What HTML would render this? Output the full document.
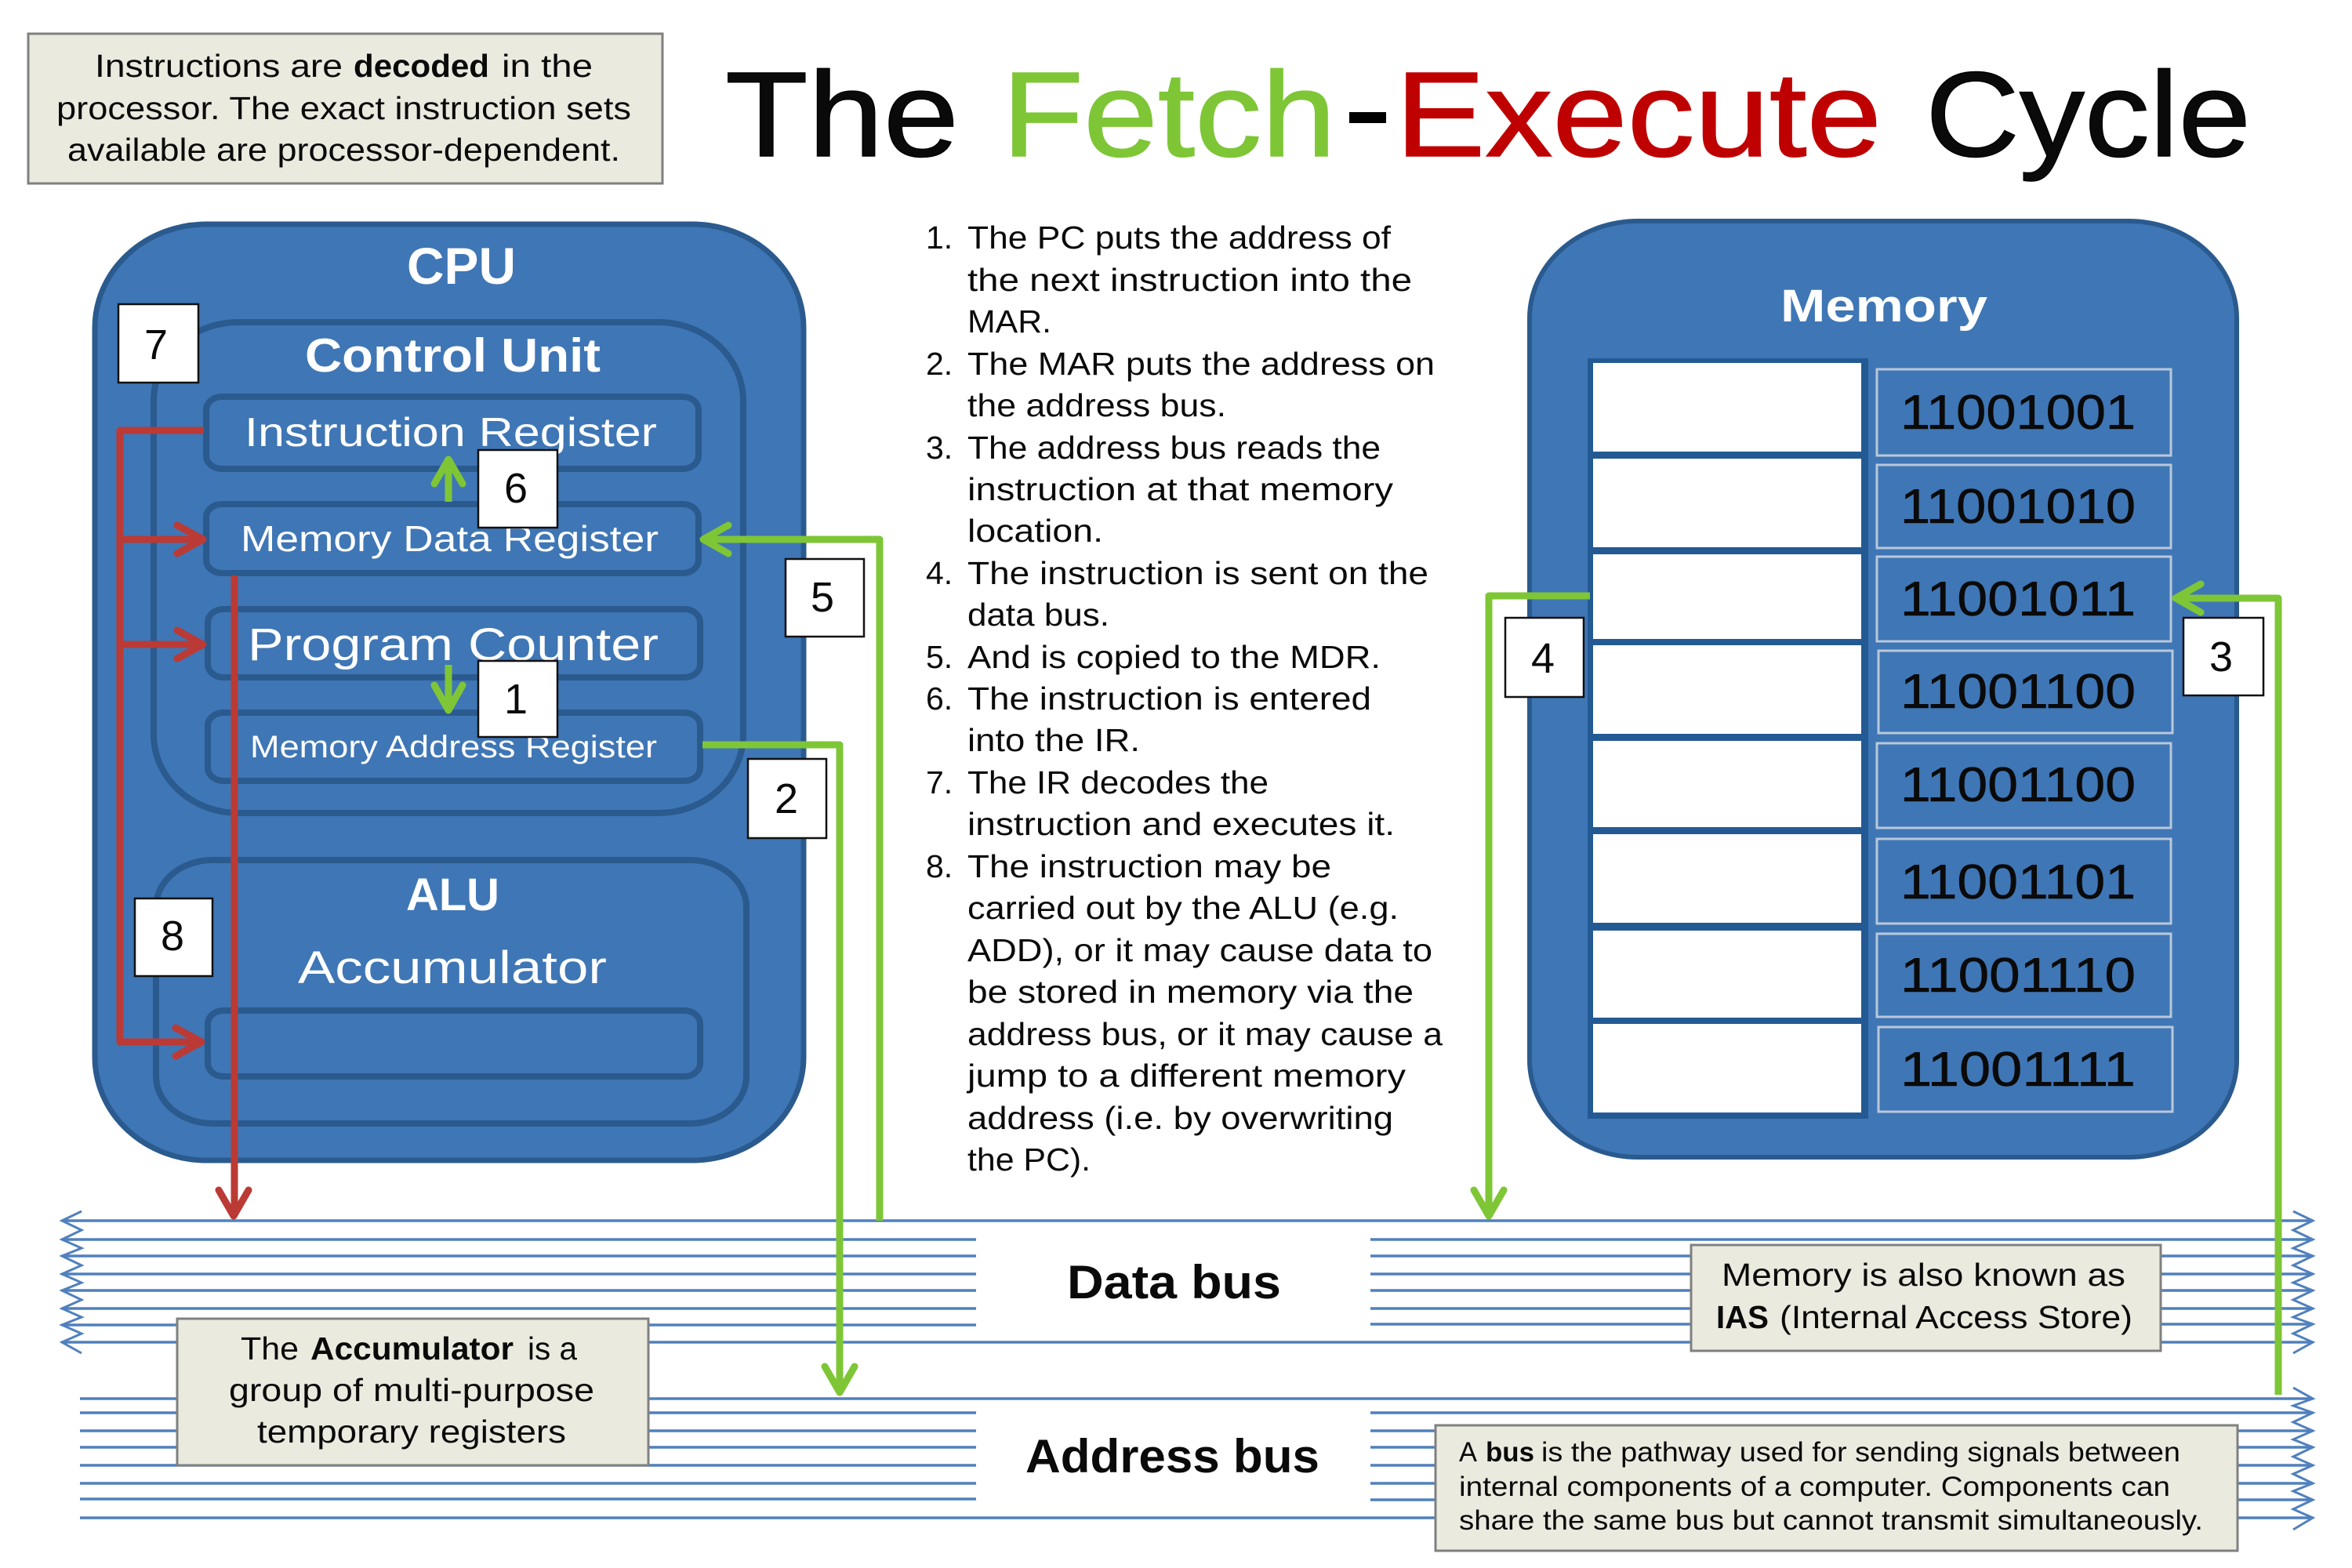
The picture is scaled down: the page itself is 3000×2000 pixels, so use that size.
<!DOCTYPE html>
<html lang="en"><head><meta charset="utf-8"><title>The Fetch-Execute Cycle</title>
<style>
html,body{margin:0;padding:0;background:#fff;width:3000px;height:2000px;overflow:hidden}
svg{display:block}
text{font-family:"Liberation Sans",sans-serif;fill:#0a0a0a}
.w{fill:#fff}
.b{font-weight:bold}
.reg{fill:none;stroke:#2a5a8e;stroke-width:8}
.bus{stroke:#5080bd;stroke-width:3.5}
.chev{fill:none;stroke:#5080bd;stroke-width:3}
.note{fill:#eaeadf;stroke:#808080;stroke-width:3}
.num{fill:#fff;stroke:#111;stroke-width:2.5}
.r{fill:none;stroke:#bb3a35;stroke-width:9;stroke-linejoin:round;stroke-linecap:butt}
.g{fill:none;stroke:#7ec636;stroke-width:9;stroke-linejoin:round;stroke-linecap:butt}
.ch{stroke-linecap:round}
.cell{fill:#fff}
.bin{fill:none;stroke:#b9c8da;stroke-width:3}
.c{font-size:41px}
.n{font-size:54px}
.d{font-size:62px}
</style></head><body>
<svg width="3000" height="2000" viewBox="0 0 3000 2000" xmlns="http://www.w3.org/2000/svg">

<!-- Title -->
<g font-size="154" stroke-width="1.5">
<text x="925" y="199" textLength="298" lengthAdjust="spacingAndGlyphs" stroke="#000">The</text>
<text x="1278" y="199" textLength="426" lengthAdjust="spacingAndGlyphs" stroke="#7ec636" style="fill:#7ec636">Fetch</text>
<rect x="1721" y="143" width="47" height="14" fill="#000" stroke="none"/>
<text x="1780" y="199" textLength="620" lengthAdjust="spacingAndGlyphs" stroke="#bf0000" style="fill:#bf0000">Execute</text>
<text x="2456" y="199" textLength="415" lengthAdjust="spacingAndGlyphs" stroke="#000">Cycle</text>
</g>

<!-- Bus lines -->
<g class="bus">
<line x1="79" y1="1557" x2="2950" y2="1557"/>
<line x1="79" y1="1581" x2="1245" y2="1581"/><line x1="1748" y1="1581" x2="2950" y2="1581"/>
<line x1="79" y1="1602" x2="1245" y2="1602"/><line x1="1748" y1="1602" x2="2950" y2="1602"/>
<line x1="79" y1="1625" x2="1245" y2="1625"/><line x1="1748" y1="1625" x2="2950" y2="1625"/>
<line x1="79" y1="1646" x2="1245" y2="1646"/><line x1="1748" y1="1646" x2="2950" y2="1646"/>
<line x1="79" y1="1669" x2="1245" y2="1669"/><line x1="1748" y1="1669" x2="2950" y2="1669"/>
<line x1="79" y1="1690" x2="1245" y2="1690"/><line x1="1748" y1="1689" x2="2950" y2="1689"/>
<line x1="79" y1="1712" x2="2950" y2="1712"/>
<line x1="102" y1="1784" x2="2950" y2="1784"/>
<line x1="102" y1="1802" x2="1245" y2="1802"/><line x1="1748" y1="1802" x2="2950" y2="1802"/>
<line x1="102" y1="1825" x2="1245" y2="1825"/><line x1="1748" y1="1825" x2="2950" y2="1825"/>
<line x1="102" y1="1846" x2="1245" y2="1846"/><line x1="1748" y1="1846" x2="2950" y2="1846"/>
<line x1="102" y1="1869" x2="1245" y2="1869"/><line x1="1748" y1="1869" x2="2950" y2="1869"/>
<line x1="102" y1="1892" x2="1245" y2="1892"/><line x1="1748" y1="1892" x2="2950" y2="1892"/>
<line x1="102" y1="1912" x2="1245" y2="1912"/><line x1="1748" y1="1913" x2="2950" y2="1913"/>
<line x1="102" y1="1936" x2="2950" y2="1936"/>
</g>
<!-- Bus arrowheads -->
<g class="chev">
<polyline points="104,1545 79,1557 104,1569 79,1581 104,1592 79,1602 104,1614 79,1625 104,1636 79,1646 104,1658 79,1669 104,1680 79,1690 104,1701 79,1712 104,1726"/>
<polyline points="2925,1545 2950,1557 2925,1569 2950,1581 2925,1592 2950,1602 2925,1614 2950,1625 2925,1636 2950,1646 2925,1658 2950,1669 2925,1680 2950,1689 2925,1701 2950,1712 2925,1726"/>
<polyline points="2925,1770 2950,1784 2925,1793 2950,1802 2925,1814 2950,1825 2925,1836 2950,1846 2925,1858 2950,1869 2925,1880 2950,1892 2925,1902 2950,1913 2925,1925 2950,1936 2925,1951"/>
</g>

<!-- CPU -->
<rect x="121" y="286" width="904" height="1194" rx="142" ry="132" fill="#3f76b5" stroke="#2a5a8e" stroke-width="7"/>
<rect x="196" y="411" width="752" height="626" rx="108" ry="100" class="reg"/>
<rect x="263" y="506" width="628" height="92" rx="20" ry="17" class="reg"/>
<rect x="263" y="643" width="628" height="88" rx="20" ry="17" class="reg"/>
<rect x="265" y="777" width="628" height="87" rx="20" ry="17" class="reg"/>
<rect x="265" y="909" width="628" height="87" rx="20" ry="17" class="reg"/>
<rect x="199" y="1097" width="753" height="336" rx="72" ry="60" class="reg"/>
<rect x="265" y="1289" width="628" height="84" rx="20" ry="17" class="reg"/>

<text class="w b" x="519" y="362" font-size="66" textLength="139" lengthAdjust="spacingAndGlyphs">CPU</text>
<text class="w b" x="389" y="474" font-size="60" textLength="377" lengthAdjust="spacingAndGlyphs">Control Unit</text>
<text class="w" x="312" y="569" font-size="52" textLength="526" lengthAdjust="spacingAndGlyphs">Instruction Register</text>
<text class="w" x="307" y="703" font-size="46" textLength="533" lengthAdjust="spacingAndGlyphs">Memory Data Register</text>
<text class="w" x="316" y="842" font-size="58" textLength="524" lengthAdjust="spacingAndGlyphs">Program Counter</text>
<text class="w" x="319" y="966" font-size="40" textLength="519" lengthAdjust="spacingAndGlyphs">Memory Address Register</text>
<text class="w b" x="518" y="1161" font-size="58" textLength="119" lengthAdjust="spacingAndGlyphs">ALU</text>
<text class="w" x="380" y="1254" font-size="58" textLength="394" lengthAdjust="spacingAndGlyphs">Accumulator</text>

<!-- Memory -->
<rect x="1951" y="282" width="902" height="1194" rx="138" ry="124" fill="#3f76b5" stroke="#2a5a8e" stroke-width="6"/>
<text class="w b" x="2271" y="410" font-size="58" textLength="264" lengthAdjust="spacingAndGlyphs">Memory</text>
<rect x="2025" y="457" width="358" height="970" fill="#245a94"/>
<rect class="cell" x="2032" y="463" width="342" height="113"/>
<rect class="cell" x="2032" y="585" width="342" height="113"/>
<rect class="cell" x="2032" y="707" width="342" height="108"/>
<rect class="cell" x="2032" y="823" width="342" height="113"/>
<rect class="cell" x="2032" y="945" width="342" height="110"/>
<rect class="cell" x="2032" y="1064" width="342" height="113"/>
<rect class="cell" x="2032" y="1187" width="342" height="111"/>
<rect class="cell" x="2032" y="1306" width="342" height="113"/>
<rect class="bin" x="2394" y="471" width="375" height="110"/>
<rect class="bin" x="2394" y="593" width="375" height="106"/>
<rect class="bin" x="2394" y="710" width="375" height="108"/>
<rect class="bin" x="2396" y="830" width="375" height="105"/>
<rect class="bin" x="2394" y="948" width="375" height="108"/>
<rect class="bin" x="2394" y="1070" width="375" height="108"/>
<rect class="bin" x="2394" y="1191" width="375" height="106"/>
<rect class="bin" x="2396" y="1310" width="375" height="108"/>
<g class="d" stroke="#0a0a0a" stroke-width="0.6">
<text x="2424" y="547" textLength="300" lengthAdjust="spacingAndGlyphs">11001001</text>
<text x="2424" y="667" textLength="300" lengthAdjust="spacingAndGlyphs">11001010</text>
<text x="2424" y="785" textLength="300" lengthAdjust="spacingAndGlyphs">11001011</text>
<text x="2424" y="903" textLength="300" lengthAdjust="spacingAndGlyphs">11001100</text>
<text x="2424" y="1022" textLength="300" lengthAdjust="spacingAndGlyphs">11001100</text>
<text x="2424" y="1146" textLength="300" lengthAdjust="spacingAndGlyphs">11001101</text>
<text x="2424" y="1265" textLength="300" lengthAdjust="spacingAndGlyphs">11001110</text>
<text x="2424" y="1385" textLength="300" lengthAdjust="spacingAndGlyphs">11001111</text>
</g>

<!-- Red connectors -->
<polyline class="r" points="260,549 153,549 153,1329 253,1329"/>
<line class="r" x1="153" y1="688" x2="253" y2="688"/>
<line class="r" x1="153" y1="822" x2="253" y2="822"/>
<polyline class="r ch" points="226,670 259,688 226,706"/>
<polyline class="r ch" points="226,804 259,822 226,840"/>
<polyline class="r ch" points="224,1311 257,1329 224,1347"/>
<line class="r" x1="299" y1="734" x2="299" y2="1545"/>
<polyline class="r ch" points="279,1518 298,1551 317,1518"/>

<!-- Green connectors -->
<line class="g" x1="572" y1="640" x2="572" y2="590"/>
<polyline class="g ch" points="554,617 572,586 590,617"/>
<line class="g" x1="572" y1="848" x2="572" y2="902"/>
<polyline class="g ch" points="554,874 572,906 590,874"/>
<polyline class="g" points="903,688 1122,688 1122,1557"/>
<polyline class="g ch" points="929,670 897,688 929,706"/>
<polyline class="g" points="896,950 1071,950 1071,1770"/>
<polyline class="g ch" points="1052,1743 1071,1776 1090,1743"/>
<polyline class="g" points="2778,763 2906,763 2906,1779"/>
<polyline class="g ch" points="2807,745 2775,763 2807,781"/>
<polyline class="g" points="2028,760 1899,760 1899,1545"/>
<polyline class="g ch" points="1880,1518 1899,1551 1918,1518"/>

<!-- Number boxes -->
<rect class="num" x="151" y="388" width="102" height="100"/><text class="n" x="199" y="458" text-anchor="middle">7</text>
<rect class="num" x="610" y="574" width="101" height="99"/><text class="n" x="658" y="641" text-anchor="middle">6</text>
<rect class="num" x="1002" y="713" width="100" height="99"/><text class="n" x="1049" y="780" text-anchor="middle">5</text>
<rect class="num" x="610" y="843" width="101" height="97"/><text class="n" x="658" y="910" text-anchor="middle">1</text>
<rect class="num" x="954" y="968" width="100" height="101"/><text class="n" x="1003" y="1037" text-anchor="middle">2</text>
<rect class="num" x="172" y="1146" width="99" height="99"/><text class="n" x="220" y="1212" text-anchor="middle">8</text>
<rect class="num" x="1920" y="788" width="100" height="101"/><text class="n" x="1968" y="858" text-anchor="middle">4</text>
<rect class="num" x="2785" y="788" width="102" height="99"/><text class="n" x="2833" y="856" text-anchor="middle">3</text>

<!-- Steps list -->
<g class="c">
<text x="1181" y="317">1.</text>
<text x="1234" y="317" textLength="540" lengthAdjust="spacingAndGlyphs">The PC puts the address of</text>
<text x="1234" y="371" textLength="567" lengthAdjust="spacingAndGlyphs">the next instruction into the</text>
<text x="1234" y="424" textLength="107" lengthAdjust="spacingAndGlyphs">MAR.</text>
<text x="1181" y="478">2.</text>
<text x="1234" y="478" textLength="596" lengthAdjust="spacingAndGlyphs">The MAR puts the address on</text>
<text x="1234" y="531" textLength="330" lengthAdjust="spacingAndGlyphs">the address bus.</text>
<text x="1181" y="585">3.</text>
<text x="1234" y="585" textLength="527" lengthAdjust="spacingAndGlyphs">The address bus reads the</text>
<text x="1234" y="638" textLength="543" lengthAdjust="spacingAndGlyphs">instruction at that memory</text>
<text x="1234" y="691" textLength="173" lengthAdjust="spacingAndGlyphs">location.</text>
<text x="1181" y="745">4.</text>
<text x="1234" y="745" textLength="588" lengthAdjust="spacingAndGlyphs">The instruction is sent on the</text>
<text x="1234" y="798" textLength="181" lengthAdjust="spacingAndGlyphs">data bus.</text>
<text x="1181" y="852">5.</text>
<text x="1234" y="852" textLength="527" lengthAdjust="spacingAndGlyphs">And is copied to the MDR.</text>
<text x="1181" y="905">6.</text>
<text x="1234" y="905" textLength="515" lengthAdjust="spacingAndGlyphs">The instruction is entered</text>
<text x="1234" y="958" textLength="220" lengthAdjust="spacingAndGlyphs">into the IR.</text>
<text x="1181" y="1012">7.</text>
<text x="1234" y="1012" textLength="384" lengthAdjust="spacingAndGlyphs">The IR decodes the</text>
<text x="1234" y="1065" textLength="545" lengthAdjust="spacingAndGlyphs">instruction and executes it.</text>
<text x="1181" y="1119">8.</text>
<text x="1234" y="1119" textLength="464" lengthAdjust="spacingAndGlyphs">The instruction may be</text>
<text x="1234" y="1172" textLength="550" lengthAdjust="spacingAndGlyphs">carried out by the ALU (e.g.</text>
<text x="1234" y="1226" textLength="593" lengthAdjust="spacingAndGlyphs">ADD), or it may cause data to</text>
<text x="1234" y="1279" textLength="569" lengthAdjust="spacingAndGlyphs">be stored in memory via the</text>
<text x="1234" y="1333" textLength="606" lengthAdjust="spacingAndGlyphs">address bus, or it may cause a</text>
<text x="1234" y="1386" textLength="559" lengthAdjust="spacingAndGlyphs">jump to a different memory</text>
<text x="1234" y="1440" textLength="543" lengthAdjust="spacingAndGlyphs">address (i.e. by overwriting</text>
<text x="1234" y="1493" textLength="157" lengthAdjust="spacingAndGlyphs">the PC).</text>
</g>

<!-- Bus labels -->
<text class="b" x="1361" y="1656" font-size="60" textLength="273" lengthAdjust="spacingAndGlyphs">Data bus</text>
<text class="b" x="1308" y="1878" font-size="60" textLength="375" lengthAdjust="spacingAndGlyphs">Address bus</text>

<!-- Notes -->
<rect class="note" x="36" y="43" width="809" height="191"/>
<g font-size="41">
<text x="121" y="98" textLength="316" lengthAdjust="spacingAndGlyphs">Instructions are</text>
<text class="b" x="451" y="98" textLength="173" lengthAdjust="spacingAndGlyphs">decoded</text>
<text x="640" y="98" textLength="116" lengthAdjust="spacingAndGlyphs">in the</text>
<text x="72" y="152" textLength="733" lengthAdjust="spacingAndGlyphs">processor. The exact instruction sets</text>
<text x="86" y="205" textLength="705" lengthAdjust="spacingAndGlyphs">available are processor-dependent.</text>
</g>

<rect class="note" x="226" y="1682" width="601" height="187"/>
<g font-size="41">
<text x="307" y="1734" textLength="74" lengthAdjust="spacingAndGlyphs">The</text>
<text class="b" x="396" y="1734" textLength="259" lengthAdjust="spacingAndGlyphs">Accumulator</text>
<text x="673" y="1734" textLength="63" lengthAdjust="spacingAndGlyphs">is a</text>
<text x="292" y="1787" textLength="466" lengthAdjust="spacingAndGlyphs">group of multi-purpose</text>
<text x="328" y="1840" textLength="394" lengthAdjust="spacingAndGlyphs">temporary registers</text>
</g>

<rect class="note" x="2157" y="1588" width="599" height="135"/>
<g font-size="41">
<text x="2196" y="1640" textLength="515" lengthAdjust="spacingAndGlyphs">Memory is also known as</text>
<text class="b" x="2189" y="1694" textLength="67" lengthAdjust="spacingAndGlyphs">IAS</text>
<text x="2270" y="1694" textLength="450" lengthAdjust="spacingAndGlyphs">(Internal Access Store)</text>
</g>

<rect class="note" x="1831" y="1818" width="1023" height="160"/>
<g font-size="35">
<text x="1861" y="1864" textLength="23" lengthAdjust="spacingAndGlyphs">A</text>
<text class="b" x="1895" y="1864" textLength="62" lengthAdjust="spacingAndGlyphs">bus</text>
<text x="1966" y="1864" textLength="815" lengthAdjust="spacingAndGlyphs">is the pathway used for sending signals between</text>
<text x="1861" y="1908" textLength="907" lengthAdjust="spacingAndGlyphs">internal components of a computer. Components can</text>
<text x="1861" y="1951" textLength="949" lengthAdjust="spacingAndGlyphs">share the same bus but cannot transmit simultaneously.</text>
</g>
</svg>
</body></html>
